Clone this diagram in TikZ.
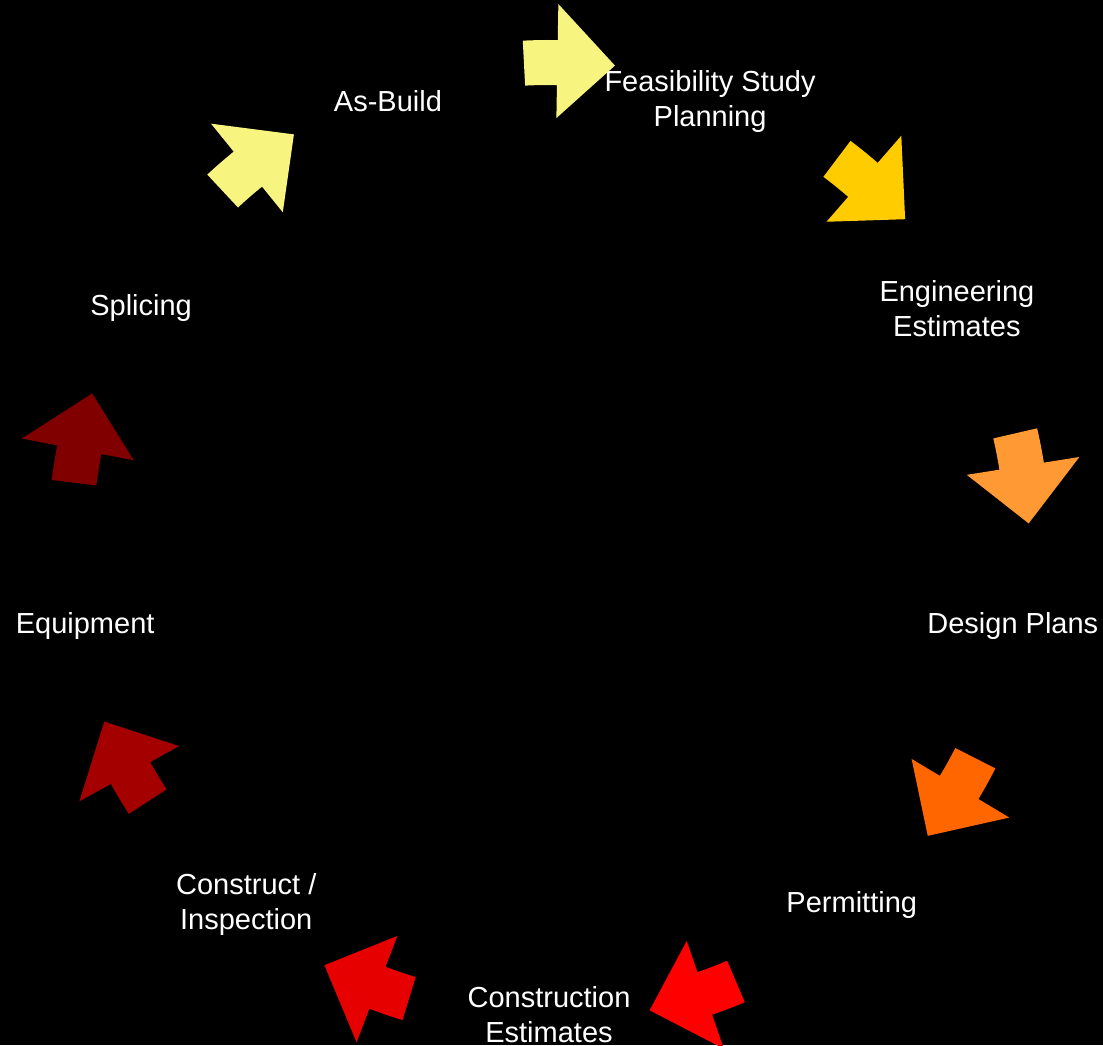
\documentclass[tikz,border=0pt]{standalone}
\usepackage{fontspec}
\setmainfont{Liberation Sans}
\usepackage{xcolor}
\definecolor{paleyellow}{HTML}{F8F480}
\definecolor{gold}{HTML}{FFCC00}
\definecolor{lightorange}{HTML}{FF9933}
\definecolor{deeporange}{HTML}{FF6600}
\definecolor{brightred}{HTML}{FF0000}
\definecolor{midred}{HTML}{E60000}
\definecolor{darkred}{HTML}{A50000}
\definecolor{maroon}{HTML}{800000}
\usepackage{tikz}
\tikzset{
    stage/.style={
        text=white,
        align=center,
        inner sep=0pt,
        yshift=-3pt,
        font=\fontsize{29}{35}\selectfont
    },
    backdrop/.style={
        fill=black
    },
}
% block arrow bent round the cycle: #1 = slot angle, #2 = colour
\newcommand{\cyclearrow}[2]{%
    \fill[#2] (#1+3:501pt) arc[start angle=#1+3, end angle=#1-1, radius=501pt]
        -- (#1-1:537pt) -- (#1-7.9:480pt) -- (#1-1:423pt) -- (#1-1:456pt)
        arc[start angle=#1-1, end angle=#1+3, radius=456pt] -- cycle;}

\begin{document}
\begin{tikzpicture}
            % Draw background
            \fill[backdrop] (-549pt,-504pt) rectangle (554pt,541pt);
            \useasboundingbox (-549pt,-504pt) rectangle (554pt,541pt);

            % Draw stages
            \node[stage] (feasibility) at (70:471pt) {Feasibility Study\\Planning};
            \node[stage] (engineering) at (30:471pt) {Engineering\\Estimates};
            \node[stage] (design) at (-10:471pt) {Design Plans};
            \node[stage] (permitting) at (-50:471pt) {Permitting};
            \node[stage] (constrest) at (-90:471pt) {Construction\\Estimates};
            \node[stage] (construct) at (-130:471pt) {Construct /\\Inspection};
            \node[stage] (equipment) at (-170:471pt) {Equipment};
            \node[stage] (splicing) at (150:471pt) {Splicing};
            \node[stage] (asbuild) at (110:471pt) {As-Build};

            % Draw arrows between stages
            \cyclearrow{90}{paleyellow}
            \cyclearrow{50}{gold}
            \cyclearrow{10}{lightorange}
            \cyclearrow{-30}{deeporange}
            \cyclearrow{-70}{brightred}
            \cyclearrow{-110}{midred}
            \cyclearrow{-150}{darkred}
            \cyclearrow{170}{maroon}
            \cyclearrow{130}{paleyellow}

        \end{tikzpicture}
\end{document}
